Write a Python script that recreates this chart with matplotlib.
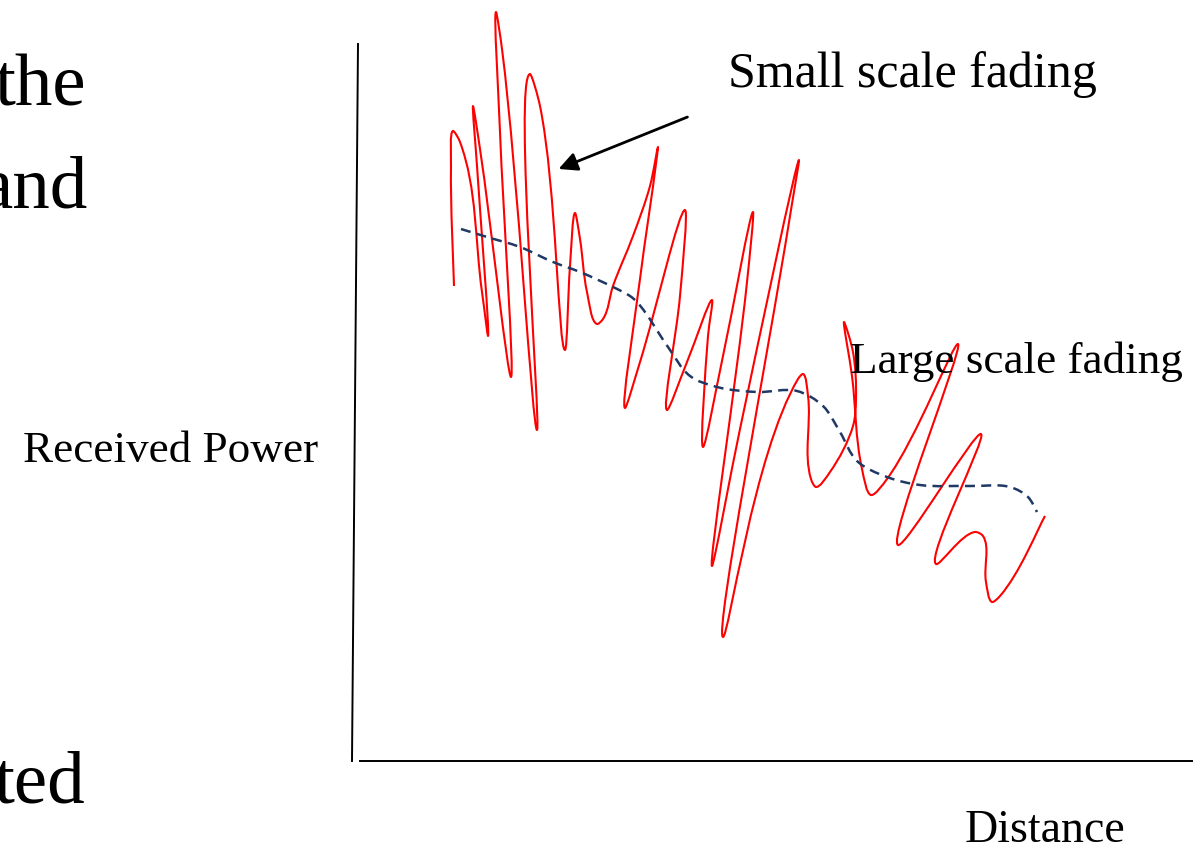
import numpy as np
import matplotlib
matplotlib.use("Agg")
import matplotlib.pyplot as plt
from matplotlib.path import Path
from matplotlib.patches import PathPatch

plt.rcParams['font.family'] = ['Liberation Serif', 'DejaVu Serif']

# small scale fading trace (distance, received power)
fast_d = [102, 99, 101, 108, 130, 136, 125, 121, 128, 159, 148, 144, 150, 185, 178, 188,
          213, 218, 223, 228, 235, 245, 251, 261, 281, 298, 306, 305, 288, 273, 288, 333,
          328, 315, 335, 360, 356, 351, 371, 401, 395, 360, 388, 447, 438, 371, 446,
          451, 456, 459, 464, 478, 501, 504, 501, 492, 500, 510, 519, 535, 606, 546, 629,
          584, 623, 631, 634, 640, 648, 693]
fast_p = [475, 595, 630, 619, 469, 425, 595, 655, 612, 384, 629, 749, 712, 331, 687, 655,
          411, 495, 548, 522, 469, 437, 442, 475, 525, 575, 614, 605, 482, 353, 399, 551,
          465, 351, 399, 461, 425, 314, 405, 549, 479, 195, 332, 601, 545, 124, 382,
          387, 365, 282, 274, 289, 335, 362, 409, 439, 385, 292, 266, 282, 417, 216, 327,
          197, 229, 225, 179, 159, 165, 245]

# large scale fading (local mean)
slow_d = [109, 135, 168, 201, 228, 261, 278, 285, 316, 338, 365, 405, 445, 471, 488, 505,
          535, 568, 618, 658, 676, 685]
slow_p = [532, 524, 514, 499, 489, 474, 465, 459, 414, 385, 374, 369, 370, 355, 329, 300,
          284, 276, 275, 274, 264, 249]


def sketch_path(xs, ys):
    # bezier path through the read points, drawn by matplotlib
    pts = np.column_stack([xs, ys]).astype(float)
    n = len(pts)
    tang = np.zeros_like(pts)
    for i in range(n):
        a = pts[max(i - 1, 0)]
        b = pts[i]
        c = pts[min(i + 1, n - 1)]
        t = np.zeros(2)
        if np.any(b != a):
            t += (b - a) / np.linalg.norm(b - a)
        if np.any(c != b):
            t += (c - b) / np.linalg.norm(c - b)
        tang[i] = t / 2
    verts = [pts[0]]
    codes = [Path.MOVETO]
    for i in range(n - 1):
        L = np.linalg.norm(pts[i + 1] - pts[i]) / 3
        verts += [pts[i] + tang[i] * L, pts[i + 1] - tang[i + 1] * L, pts[i + 1]]
        codes += [Path.CURVE4] * 3
    return Path(verts, codes)


fig = plt.figure(figsize=(12.02, 8.53), dpi=100)
ax = fig.add_axes([0, 0, 1, 1])
ax.set_xlim(-352, 850)
ax.set_ylim(-91, 762)
ax.axis('off')

# hand drawn axes
ax.plot([6, 0], [717, 0], color='black', lw=1.4)
ax.plot([8, 840], [0, 0], color='black', lw=1.4)

ax.add_patch(PathPatch(sketch_path(fast_d, fast_p), facecolor='none',
                       edgecolor='red', lw=1.5, joinstyle='round'))
ax.add_patch(PathPatch(sketch_path(slow_d, slow_p), facecolor='none',
                       edgecolor='#1f3864', lw=1.8, linestyle=(0, (4, 2.5))))

ax.text(-181, 311, 'Received Power', fontsize=32.5, ha='center', va='center')
ax.text(693, -80, 'Distance', fontsize=33, ha='center', va='baseline')
ax.text(376, 687, 'Small scale fading', fontsize=36, ha='left', va='center')
ax.text(498, 400, 'Large scale fading', fontsize=32.5, ha='left', va='center')
ax.annotate('', xy=(204, 591), xytext=(338, 645),
            arrowprops=dict(arrowstyle='-|>', color='black', lw=2, mutation_scale=28))

# slide text cut off on the left
ax.text(-266, 657, 'the', fontsize=54, ha='right', va='baseline')
ax.text(-264, 555, 'and', fontsize=54, ha='right', va='baseline')
ax.text(-267, -41, 'ted', fontsize=54, ha='right', va='baseline')

fig.savefig('out.png', dpi=100)
